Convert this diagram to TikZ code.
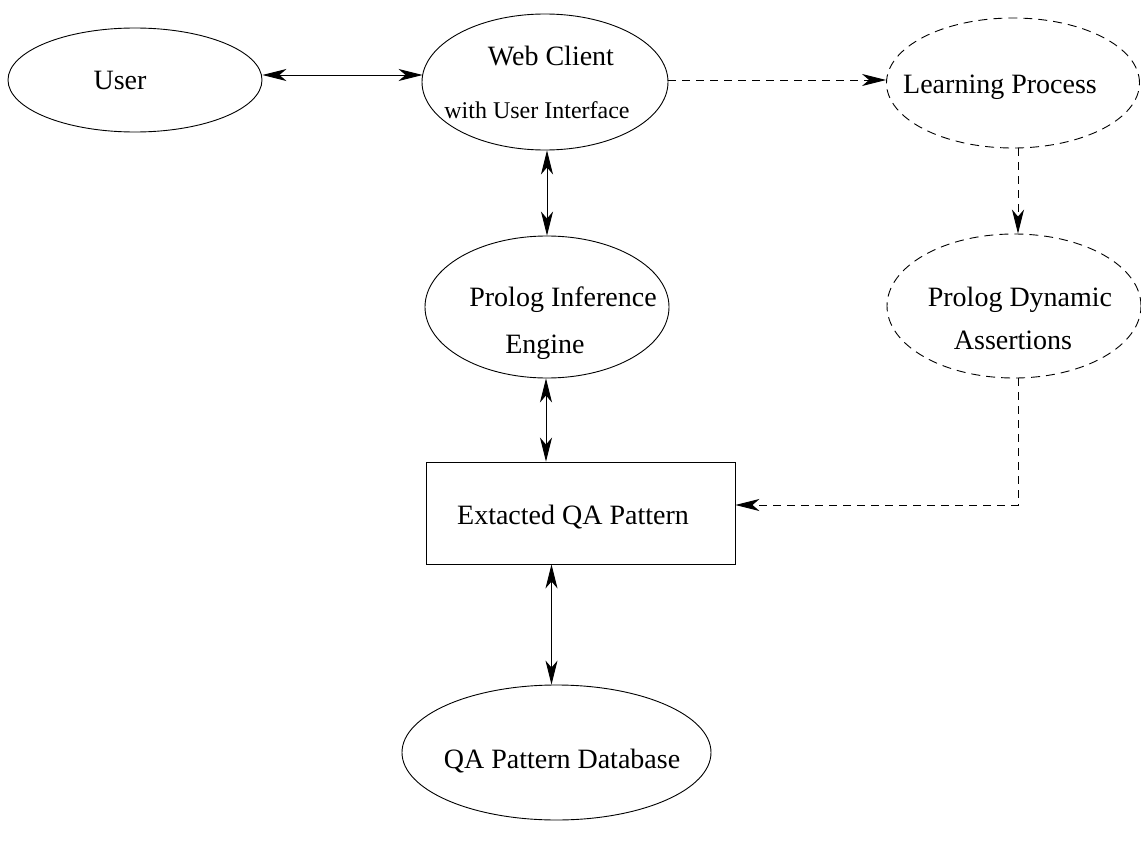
\documentclass[tikz,border=0pt]{standalone}
\usepackage{fontspec}
\setmainfont{Liberation Serif}
\usetikzlibrary{shapes.geometric,arrows.meta,calc}
\begin{document}
\begin{tikzpicture}[x=1pt,y=-1pt,
  >={Stealth[length=24pt,width=12pt,inset=7pt]},
  ell/.style={draw,ellipse,inner sep=0pt,line width=0.9pt},
  dell/.style={ell,dash pattern=on 9pt off 6pt},
  boxn/.style={draw,rectangle,inner sep=0pt,line width=0.9pt},
  con/.style={line width=0.9pt,<->},
  dcon/.style={line width=0.9pt,dash pattern=on 8pt off 6pt,->},
  lbl/.style={font=\fontsize{28}{32}\selectfont,inner sep=0pt,anchor=base},
  slbl/.style={font=\fontsize{24}{28}\selectfont,inner sep=0pt,anchor=base}]
\useasboundingbox (0,0) rectangle (1141,843);
\node[ell,minimum width=254pt,minimum height=104pt] (user) at (135,80) {};
\node[lbl] (userT) at (120,89) {User};
\node[ell,minimum width=246pt,minimum height=136pt] (web) at (545,82) {};
\node[lbl] (webT1) at (551,66) {Web Client};
\node[slbl] (webT2) at (537,118) {with User Interface};
\node[dell,minimum width=253pt,minimum height=130pt] (learn) at (1013,83) {};
\node[lbl] (learnT) at (1000,93) {Learning Process};
\node[ell,minimum width=244pt,minimum height=142pt] (prolog) at (547,307) {};
\node[lbl] (prologT1) at (563,306) {Prolog Inference};
\node[lbl] (prologT2) at (545,353) {Engine};
\node[dell,minimum width=254pt,minimum height=144pt] (dyn) at (1014,306) {};
\node[lbl] (dynT1) at (1020,306) {Prolog Dynamic};
\node[lbl] (dynT2) at (1013,349) {Assertions};
\node[boxn,minimum width=309pt,minimum height=102pt] (box) at (580.5,513) {};
\node[lbl] (boxT) at (573,524) {Extacted QA Pattern};
\node[ell,minimum width=309pt,minimum height=135pt] (db) at (556.5,752.5) {};
\node[lbl] (dbT) at (562,768) {QA Pattern Database};
\draw[con] ($(user.east)+(0,-5)$) -- ($(web.west)+(1,-7)$);
\draw[dcon] ($(web.east)+(0,-2)$) -- ($(learn.west)+(0,-3)$);
\coordinate (ls) at ($(learn.south)+(5,0)$);
\draw[dcon] (ls) -- (ls |- dyn.north);
\draw[con] (web.south -| prolog.center) -- (prolog.north);
\draw[con] ($(prolog.south)+(-1,0)$) coordinate (ps) -- (ps |- box.north);
\coordinate (dcorner) at ($(dyn.south)+(4,0)$);
\draw[dcon] (dcorner) |- ($(box.east)+(0,-8)$);
\draw[con] ($(box.south)+(-29,0)$) coordinate (bs) -- (bs |- db.north);
\end{tikzpicture}
\end{document}
